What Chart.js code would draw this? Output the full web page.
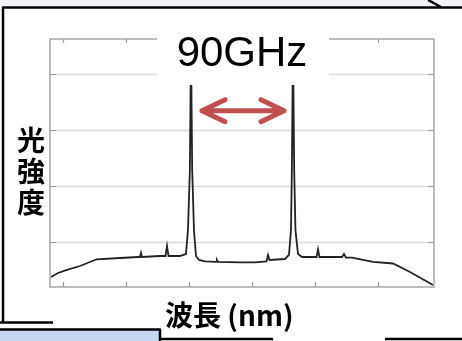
<!DOCTYPE html>
<html>
<head>
<meta charset="utf-8">
<script src="https://cdn.jsdelivr.net/npm/chart.js@4.4.1/dist/chart.umd.min.js"></script>
<style>
  html, body { margin: 0; padding: 0; background: #fff; }
  #wrap { width: 462px; height: 341px; }
</style>
</head>
<body>
<div id="wrap"><canvas id="chart" width="462" height="341"></canvas></div>
<script>
// spectrum (arbitrary units, x ticks at 1..6)
const wavelength = [
  0.810, 0.921, 1.063, 1.270, 1.535, 1.905, 2.190, 2.222, 2.238, 2.254,
  2.540, 2.627, 2.651, 2.675, 2.857, 2.952, 2.984, 3.014, 3.032, 3.051,
  3.079, 3.111, 3.159, 3.254, 3.429, 3.444, 3.460, 3.810, 4.048, 4.230,
  4.254, 4.278, 4.524, 4.587, 4.619, 4.633, 4.651, 4.670, 4.690, 4.730,
  4.794, 5.024, 5.048, 5.071, 5.429, 5.460, 5.492, 5.587, 5.921, 6.238,
  6.508, 6.873,
];
const intensity = [
  0.375, 0.446, 0.500, 0.571, 0.691, 0.714, 0.732, 0.732, 0.804, 0.732,
  0.750, 0.750, 0.929, 0.750, 0.750, 0.786, 1.214, 2.286, 4.500, 2.286,
  1.214, 0.750, 0.679, 0.652, 0.643, 0.679, 0.643, 0.634, 0.634, 0.652,
  0.768, 0.679, 0.696, 0.768, 1.214, 2.286, 4.500, 2.286, 1.214, 0.786,
  0.732, 0.732, 0.866, 0.732, 0.732, 0.786, 0.723, 0.720, 0.646, 0.616,
  0.464, 0.232,
];
const xTickValues = [1, 2, 3, 4, 5, 6];
const yTickValues = [1, 2, 3, 4];

const titleText = '90GHz';
const yLabelChars = ['光', '強', '度'];
const xLabelText = '波長 (nm)';

// the two main lines and the height of the arrow between them
const peakLeft = 3.032;
const peakRight = 4.651;
const arrowLevel = 3.345;

const decorations = {
  id: 'decorations',
  beforeDatasetsDraw(chart) {
    const { ctx, chartArea, scales } = chart;
    ctx.save();
    ctx.strokeStyle = '#dcdcdc';
    ctx.lineWidth = 1.4;
    yTickValues.forEach((value) => {
      const y = Math.round(scales.y.getPixelForValue(value)) + 0.5;
      ctx.beginPath();
      ctx.moveTo(chartArea.left, y);
      ctx.lineTo(chartArea.right, y);
      ctx.stroke();
    });
    ctx.restore();
  },
  afterDraw(chart) {
    const { ctx, chartArea, scales } = chart;
    const { left, right, top, bottom } = chartArea;
    ctx.save();

    // plot frame
    ctx.strokeStyle = '#a8a8a8';
    ctx.lineWidth = 1.5;
    ctx.strokeRect(left, top, right - left, bottom - top);

    // inner tick marks
    ctx.strokeStyle = '#9a9a9a';
    ctx.lineWidth = 1.2;
    xTickValues.forEach((value) => {
      const x = Math.round(scales.x.getPixelForValue(value)) + 0.5;
      ctx.beginPath();
      ctx.moveTo(x, bottom);
      ctx.lineTo(x, bottom - 5);
      ctx.moveTo(x, top);
      ctx.lineTo(x, top + 4);
      ctx.stroke();
    });
    yTickValues.forEach((value) => {
      const y = Math.round(scales.y.getPixelForValue(value)) + 0.5;
      ctx.beginPath();
      ctx.moveTo(left, y);
      ctx.lineTo(left + 6, y);
      ctx.moveTo(right, y);
      ctx.lineTo(right - 6, y);
      ctx.stroke();
    });

    // white box behind the title
    ctx.fillStyle = '#ffffff';
    ctx.fillRect(157, 28, 172, 57);
    ctx.fillStyle = '#000000';
    ctx.font = '42px "Liberation Sans", Arial, sans-serif';
    ctx.textAlign = 'center';
    ctx.textBaseline = 'alphabetic';
    ctx.fillText(titleText, 242, 66);

    // red double arrow between the peaks
    const ax1 = scales.x.getPixelForValue(peakLeft) + 9;
    const ax2 = scales.x.getPixelForValue(peakRight) - 7;
    const ay = scales.y.getPixelForValue(arrowLevel);
    ctx.strokeStyle = '#c0504d';
    ctx.lineWidth = 5;
    ctx.lineCap = 'round';
    ctx.lineJoin = 'round';
    ctx.beginPath();
    ctx.moveTo(ax1 + 2, ay);
    ctx.lineTo(ax2 - 2, ay);
    ctx.moveTo(ax1 + 25, ay - 11);
    ctx.lineTo(ax1 + 2, ay);
    ctx.lineTo(ax1 + 25, ay + 11);
    ctx.moveTo(ax2 - 25, ay - 11);
    ctx.lineTo(ax2 - 2, ay);
    ctx.lineTo(ax2 - 25, ay + 11);
    ctx.stroke();

    // axis labels
    ctx.fillStyle = '#000000';
    ctx.font = 'bold 28px "Noto Sans CJK JP", sans-serif';
    ctx.textAlign = 'center';
    ctx.textBaseline = 'middle';
    const charY = [140, 171, 202];
    yLabelChars.forEach((ch, i) => ctx.fillText(ch, 31, charY[i]));
    ctx.font = 'bold 28px "Noto Sans CJK JP", sans-serif';
    ctx.textAlign = 'left';
    ctx.fillText(xLabelText, 165, 315);

    // slide frame around the figure
    ctx.fillStyle = '#f4f2f9';
    ctx.fillRect(0, 0, 462, 6);
    ctx.strokeStyle = '#000000';
    ctx.lineWidth = 2.5;
    ctx.lineCap = 'butt';
    ctx.beginPath();
    ctx.moveTo(3, 322.5);
    ctx.lineTo(3, 7.5);
    ctx.lineTo(462, 7.5);
    ctx.moveTo(428, 0);
    ctx.lineTo(441, 7);
    ctx.moveTo(0, 322.5);
    ctx.lineTo(53, 322.5);
    ctx.stroke();

    // neighbouring shapes at the bottom
    ctx.fillStyle = '#c6d9f1';
    ctx.fillRect(0, 330, 159, 11);
    ctx.beginPath();
    ctx.moveTo(0, 329.5);
    ctx.lineTo(160, 329.5);
    ctx.lineTo(160, 341);
    ctx.moveTo(161, 339);
    ctx.lineTo(273, 339);
    ctx.moveTo(385, 339);
    ctx.lineTo(462, 339);
    ctx.stroke();

    ctx.restore();
  },
};

const chart = new Chart(document.getElementById('chart').getContext('2d'), {
  type: 'line',
  data: {
    datasets: [
      {
        data: wavelength.map((x, i) => ({ x, y: intensity[i] })),
        borderColor: '#222222',
        borderWidth: 1.8,
        pointRadius: 0,
        tension: 0,
        fill: false,
      },
    ],
  },
  options: {
    responsive: false,
    animation: false,
    devicePixelRatio: 1,
    layout: { padding: { left: 50, top: 39, right: 28, bottom: 54 } },
    plugins: { legend: { display: false }, tooltip: { enabled: false } },
    scales: {
      x: { type: 'linear', min: 0.794, max: 6.889, display: false },
      y: { type: 'linear', min: 0.196, max: 4.625, display: false },
    },
  },
  plugins: [decorations],
});
</script>
</body>
</html>
